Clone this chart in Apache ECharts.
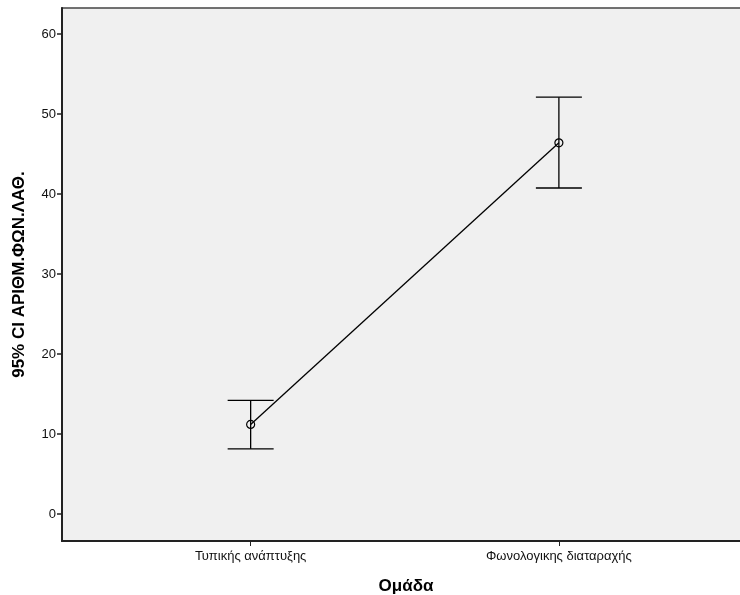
<!DOCTYPE html>
<html>
<head>
<meta charset="utf-8">
<script src="https://cdn.jsdelivr.net/npm/echarts@6/dist/echarts.min.js"></script>
<style>html,body{margin:0;padding:0;background:#fff}#c{width:740px;height:595px}</style>
</head>
<body>
<div id="c"></div>
<script>
var categories = ['Τυπικής ανάπτυξης', 'Φωνολογικης διαταραχής'];
var means = [11.2, 46.4];
var lowerCI = [8.15, 40.75];
var upperCI = [14.2, 52.1];
var yTicks = [0, 10, 20, 30, 40, 50, 60];

var chart = echarts.init(document.getElementById('c'));
var idx = categories.map(function (c, i) { return i; });
var font = '"Liberation Sans", Arial, sans-serif';

chart.setOption({
  animation: false,
  grid: {
    left: 62, top: 8, right: -10, bottom: 54,
    outerBoundsMode: 'none', containLabel: false,
    show: true, backgroundColor: '#f0f0f0',
    borderColor: '#444', borderWidth: 1.5
  },
  xAxis: {
    type: 'value',
    min: -0.612, max: 1.62,
    name: 'Ομάδα', nameLocation: 'middle', nameGap: 37,
    nameTextStyle: { fontFamily: font, fontSize: 17, fontWeight: 'bold', color: '#000' },
    axisLine: { show: true, onZero: false, lineStyle: { color: '#222', width: 2 } },
    axisTick: { show: true, length: 5, customValues: idx, lineStyle: { color: '#222', width: 1 } },
    axisLabel: {
      customValues: idx, margin: 9,
      formatter: function (v) { return categories[Math.round(v)]; },
      fontFamily: font, fontSize: 13, color: '#111'
    },
    splitLine: { show: false }
  },
  yAxis: {
    type: 'value',
    min: -3.375, max: 63.25,
    name: '95% CI ΑΡΙΘΜ.ΦΩΝ.ΛΑΘ.', nameLocation: 'middle', nameGap: 34,
    nameTextStyle: { fontFamily: font, fontSize: 17, fontWeight: 'bold', color: '#000' },
    axisLine: { show: true, onZero: false, lineStyle: { color: '#222', width: 2 } },
    axisTick: { show: true, length: 5, customValues: yTicks, lineStyle: { color: '#222', width: 1.5 } },
    axisLabel: { customValues: yTicks, margin: 6, fontFamily: font, fontSize: 13, color: '#111' },
    splitLine: { show: false }
  },
  series: [
    {
      type: 'custom',
      data: idx.map(function (i) { return [i, lowerCI[i], upperCI[i]]; }),
      renderItem: function (params, api) {
        var x = api.value(0);
        var lo = api.coord([x, api.value(1)]);
        var hi = api.coord([x, api.value(2)]);
        var hw = 23;
        var st = { stroke: '#000', lineWidth: 1.3, fill: null };
        return {
          type: 'group',
          children: [
            { type: 'line', shape: { x1: lo[0], y1: lo[1], x2: hi[0], y2: hi[1] }, style: st },
            { type: 'line', shape: { x1: lo[0] - hw, y1: lo[1], x2: lo[0] + hw, y2: lo[1] }, style: st },
            { type: 'line', shape: { x1: hi[0] - hw, y1: hi[1], x2: hi[0] + hw, y2: hi[1] }, style: st }
          ]
        };
      },
      z: 2
    },
    {
      type: 'line',
      data: idx.map(function (i) { return [i, means[i]]; }),
      symbol: 'circle', symbolSize: 8,
      lineStyle: { color: '#000', width: 1.3 },
      itemStyle: { color: 'rgba(0,0,0,0)', borderColor: '#000', borderWidth: 1.2 },
      z: 3
    }
  ]
});
</script>
</body>
</html>
